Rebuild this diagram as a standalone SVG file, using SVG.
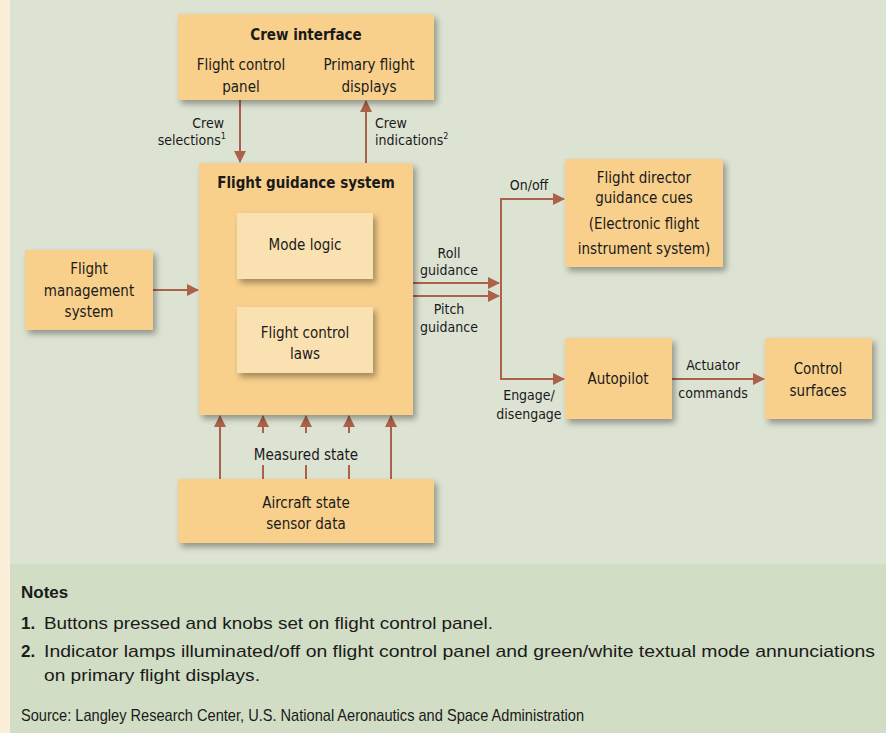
<svg xmlns="http://www.w3.org/2000/svg" width="886" height="733" viewBox="0 0 886 733">
<style>
text{font-family:"Liberation Sans Narrow","DejaVu Sans Condensed","Liberation Sans",sans-serif;fill:#1a1a1a}
.box{fill:#f8d08b}
.inner{fill:#fae1b2}
.lbl{font-size:15px;text-anchor:middle}
.sm{font-size:14px}
.b{font-weight:bold}
.ln{stroke:#ac6249;stroke-width:2;fill:none}
.note{font-family:"Liberation Sans",Arial,sans-serif;font-size:17px}
</style>
<defs>
<filter id="sh" x="-10%" y="-10%" width="130%" height="130%">
<feGaussianBlur in="SourceAlpha" stdDeviation="3"/>
<feOffset dx="3" dy="4" result="o"/>
<feComponentTransfer><feFuncA type="linear" slope="0.35"/></feComponentTransfer>
<feMerge><feMergeNode/><feMergeNode in="SourceGraphic"/></feMerge>
</filter>
<marker id="ah" viewBox="0 0 12 12" refX="11" refY="6" markerWidth="12" markerHeight="12" markerUnits="userSpaceOnUse" orient="auto">
<path d="M0,0 L12,6 L0,12 Z" fill="#ac6249"/>
</marker>
</defs>
<rect x="0" y="0" width="886" height="733" fill="#dde3d3"/>
<rect x="10" y="564" width="876" height="169" fill="#d1ddc4"/>
<rect x="0" y="0" width="10" height="733" fill="#fbefd9"/>

<g id="connectors">
<line class="ln" x1="240" y1="100" x2="240" y2="162" marker-end="url(#ah)"/>
<line class="ln" x1="366" y1="163" x2="366" y2="101" marker-end="url(#ah)"/>
<line class="ln" x1="153" y1="290" x2="198" y2="290" marker-end="url(#ah)"/>
<line class="ln" x1="413" y1="283" x2="499" y2="283" marker-end="url(#ah)"/>
<line class="ln" x1="413" y1="296" x2="499" y2="296" marker-end="url(#ah)"/>
<path class="ln" d="M564,199 H501 V379 H564" marker-end="url(#ah)"/>
<line class="ln" x1="501" y1="199" x2="564" y2="199" marker-end="url(#ah)"/>
<line class="ln" x1="672" y1="379" x2="764" y2="379" marker-end="url(#ah)"/>
<line class="ln" x1="220" y1="479" x2="220" y2="416" marker-end="url(#ah)"/>
<line class="ln" x1="391" y1="479" x2="391" y2="416" marker-end="url(#ah)"/>
<line class="ln" x1="263" y1="433" x2="263" y2="416" marker-end="url(#ah)"/>
<line class="ln" x1="306" y1="433" x2="306" y2="416" marker-end="url(#ah)"/>
<line class="ln" x1="349" y1="433" x2="349" y2="416" marker-end="url(#ah)"/>
<line class="ln" x1="263" y1="465" x2="263" y2="479"/>
<line class="ln" x1="306" y1="465" x2="306" y2="479"/>
<line class="ln" x1="349" y1="465" x2="349" y2="479"/>
<text class="lbl sm" x="449" y="258">Roll</text>
<text class="lbl sm" x="449" y="275">guidance</text>
<text class="lbl sm" x="449" y="314">Pitch</text>
<text class="lbl sm" x="449" y="332">guidance</text>
<text class="lbl sm" x="529" y="190">On/off</text>
<text class="lbl sm" x="529" y="400">Engage/</text>
<text class="lbl sm" x="529" y="419">disengage</text>
<text class="lbl sm" x="713" y="370">Actuator</text>
<text class="lbl sm" x="713" y="398">commands</text>
<text class="lbl" x="306" y="460">Measured state</text>
<text class="sm" x="224" y="128" text-anchor="end">Crew</text>
<text class="sm" x="226" y="145" text-anchor="end">selections<tspan font-size="9" dy="-6">1</tspan></text>
<text class="sm" x="375" y="128">Crew</text>
<text class="sm" x="375" y="145">indications<tspan font-size="9" dy="-6">2</tspan></text>
</g>

<g id="crew-interface">
<rect class="box" x="178" y="14" width="256" height="86" filter="url(#sh)"/>
<text class="lbl b" x="306" y="40" font-size="17">Crew interface</text>
<text class="lbl" x="241" y="70">Flight control</text>
<text class="lbl" x="241" y="92">panel</text>
<text class="lbl" x="369" y="70">Primary flight</text>
<text class="lbl" x="369" y="92">displays</text>
</g>

<g id="flight-guidance-system">
<rect class="box" x="199" y="163" width="214" height="252" filter="url(#sh)"/>
<text class="lbl b" x="306" y="188" font-size="17">Flight guidance system</text>
</g>

<g id="mode-logic">
<rect class="inner" x="237" y="213" width="136" height="66" filter="url(#sh)"/>
<text class="lbl" x="305" y="250">Mode logic</text>
</g>

<g id="flight-control-laws">
<rect class="inner" x="237" y="307" width="136" height="66" filter="url(#sh)"/>
<text class="lbl" x="305" y="338">Flight control</text>
<text class="lbl" x="305" y="359">laws</text>
</g>

<g id="flight-management-system">
<rect class="box" x="25" y="250" width="128" height="80" filter="url(#sh)"/>
<text class="lbl" x="89" y="274">Flight</text>
<text class="lbl" x="89" y="296">management</text>
<text class="lbl" x="89" y="317">system</text>
</g>

<g id="flight-director">
<rect class="box" x="565" y="159" width="158" height="108" filter="url(#sh)"/>
<text class="lbl" x="644" y="183">Flight director</text>
<text class="lbl" x="644" y="203">guidance cues</text>
<text class="lbl" x="644" y="229">(Electronic flight</text>
<text class="lbl" x="644" y="254">instrument system)</text>
</g>

<g id="autopilot">
<rect class="box" x="565" y="338" width="107" height="81" filter="url(#sh)"/>
<text class="lbl" x="618" y="384">Autopilot</text>
</g>

<g id="control-surfaces">
<rect class="box" x="765" y="338" width="107" height="81" filter="url(#sh)"/>
<text class="lbl" x="818" y="374">Control</text>
<text class="lbl" x="818" y="396">surfaces</text>
</g>

<g id="aircraft-state-sensor-data">
<rect class="box" x="178" y="479" width="256" height="64" filter="url(#sh)"/>
<text class="lbl" x="306" y="508">Aircraft state</text>
<text class="lbl" x="306" y="529">sensor data</text>
</g>

<g id="notes">
<text class="note b" x="21" y="598">Notes</text>
<text class="note b" x="21" y="629">1.</text>
<text class="note" x="44" y="629" textLength="449" lengthAdjust="spacingAndGlyphs">Buttons pressed and knobs set on flight control panel.</text>
<text class="note b" x="21" y="657">2.</text>
<text class="note" x="44" y="657" textLength="831" lengthAdjust="spacingAndGlyphs">Indicator lamps illuminated/off on flight control panel and green/white textual mode annunciations</text>
<text class="note" x="44" y="681" textLength="216" lengthAdjust="spacingAndGlyphs">on primary flight displays.</text>
<text class="note" x="21" y="721" font-size="14" textLength="563" lengthAdjust="spacingAndGlyphs">Source: Langley Research Center, U.S. National Aeronautics and Space Administration</text>
</g>
</svg>
